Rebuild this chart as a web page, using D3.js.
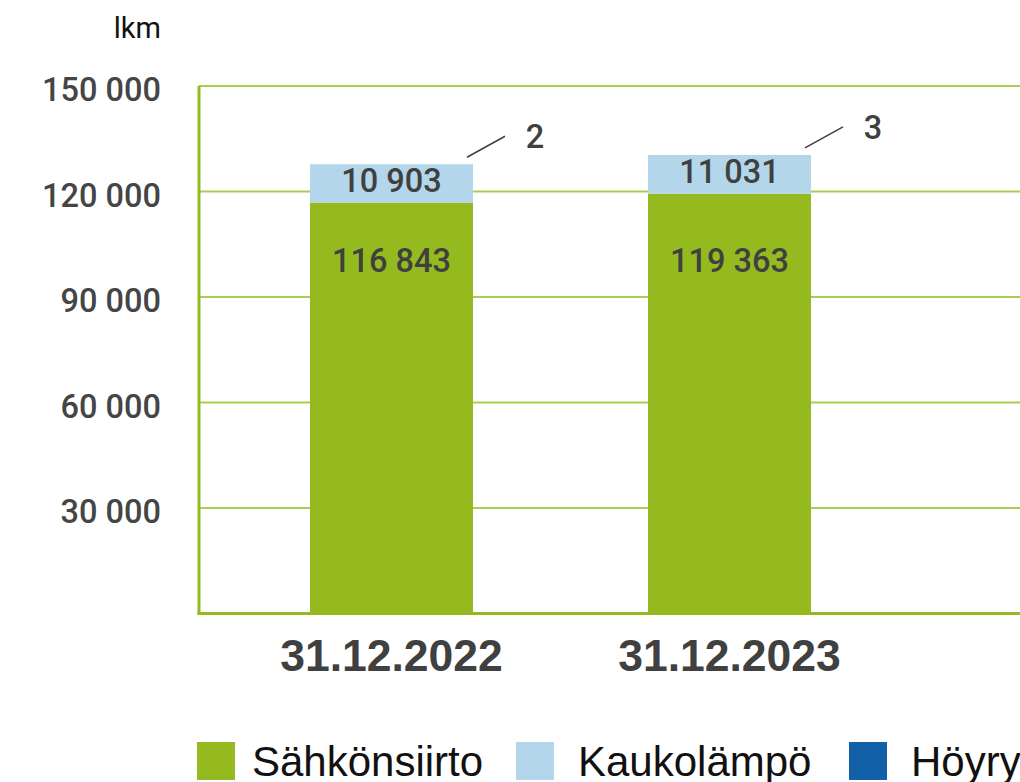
<!DOCTYPE html>
<html>
<head>
<meta charset="utf-8">
<script src="https://cdn.jsdelivr.net/npm/d3@7"></script>
<style>
  html, body { margin: 0; padding: 0; background: #fff; }
  svg { display: block; }
</style>
</head>
<body>
<div id="chart"></div>
<script>
// Data
const categories = ['31.12.2022', '31.12.2023'];
const sahkonsiirto = [116843, 119363];
const kaukolampo = [10903, 11031];
const hoyry = [2, 3];
const seriesNames = ['Sähkönsiirto', 'Kaukolämpö', 'Höyry'];
const yTicks = [30000, 60000, 90000, 120000, 150000];
const unitLabel = 'lkm';

const colors = {
  'Sähkönsiirto': '#95ba1f',
  'Kaukolämpö': '#b4d6ea',
  'Höyry': '#1160a8'
};

const width = 1020;
const height = 782;
const margin = { top: 86, right: 0, bottom: 169, left: 199 };

const svg = d3.select('#chart')
  .append('svg')
  .attr('width', width)
  .attr('height', height);

// bars sit at 310..473 and 648..811
const x = d3.scaleBand()
  .domain(categories)
  .range([310, 811])
  .paddingInner(0.5178)
  .paddingOuter(0);

const y = d3.scaleLinear()
  .domain([0, 150000])
  .range([height - margin.bottom + 0.5, margin.top]);

// Stack
const rows = categories.map((c, i) => ({
  cat: c,
  'Sähkönsiirto': sahkonsiirto[i],
  'Kaukolämpö': kaukolampo[i],
  'Höyry': hoyry[i]
}));
const stacked = d3.stack().keys(seriesNames)(rows);

// Gridlines
svg.append('g')
  .selectAll('line')
  .data(yTicks)
  .enter()
  .append('line')
  .attr('x1', margin.left)
  .attr('x2', width)
  .attr('y1', d => y(d))
  .attr('y2', d => y(d))
  .attr('stroke', '#a9cd52')
  .attr('stroke-width', 2);

// Bars
svg.append('g')
  .selectAll('g')
  .data(stacked)
  .enter()
  .append('g')
  .attr('fill', d => colors[d.key])
  .selectAll('rect')
  .data(d => d)
  .enter()
  .append('rect')
  .attr('x', d => x(d.data.cat))
  .attr('width', x.bandwidth())
  .attr('y', d => y(d[1]))
  .attr('height', d => y(d[0]) - y(d[1]));

// Axes lines
svg.append('line')
  .attr('x1', margin.left).attr('x2', margin.left)
  .attr('y1', y(150000)).attr('y2', y(0) + 1.5)
  .attr('stroke', '#95ba1f')
  .attr('stroke-width', 3);
svg.append('line')
  .attr('x1', margin.left - 1.5).attr('x2', width)
  .attr('y1', y(0)).attr('y2', y(0))
  .attr('stroke', '#95ba1f')
  .attr('stroke-width', 3);

// Y axis labels
const fmt = v => d3.format(',')(v).replace(/,/g, ' ');
const yAxis = d3.axisLeft(y).tickValues(yTicks).tickSize(0).tickPadding(0).tickFormat(fmt);
const yg = svg.append('g')
  .attr('transform', 'translate(161,3)')
  .call(yAxis);
yg.select('.domain').remove();
yg.selectAll('text')
  .attr('dy', '0.36em')
  .style('font-family', 'Roboto, sans-serif')
  .style('font-weight', 500)
  .style('font-size', '32.5px')
  .attr('fill', '#454545');

svg.append('text')
  .attr('x', 161)
  .attr('y', 38)
  .attr('text-anchor', 'end')
  .style('font-family', 'Roboto, sans-serif')
  .style('font-size', '29px')
  .attr('fill', '#111')
  .text(unitLabel);

// X axis labels
const xAxis = d3.axisBottom(x).tickSize(0).tickPadding(0);
const xg = svg.append('g')
  .attr('transform', `translate(0,${y(0) + 57})`)
  .call(xAxis);
xg.select('.domain').remove();
xg.selectAll('text')
  .attr('dy', 0)
  .style('font-family', '"Liberation Sans", Arial, sans-serif')
  .style('font-weight', 700)
  .style('font-size', '44.5px')
  .attr('fill', '#404040');

// Value labels
const labelStyle = sel => sel
  .style('font-family', 'Roboto, sans-serif')
  .style('font-weight', 500)
  .style('font-size', '32.5px')
  .attr('fill', '#404040')
  .attr('text-anchor', 'middle');

// Sähkönsiirto labels sit at one height inside the green bars
svg.append('g')
  .selectAll('text')
  .data(stacked[0])
  .enter()
  .append('text')
  .attr('x', d => x(d.data.cat) + x.bandwidth() / 2)
  .attr('y', y(100500) + 12)
  .call(labelStyle)
  .text(d => fmt(d[1] - d[0]));

svg.append('g')
  .selectAll('text')
  .data(stacked[1])
  .enter()
  .append('text')
  .attr('x', d => x(d.data.cat) + x.bandwidth() / 2)
  .attr('y', d => (y(d[0]) + y(d[1])) / 2 + 9)
  .call(labelStyle)
  .text(d => fmt(d[1] - d[0]));

// Höyry leader labels
const leader = svg.append('g')
  .selectAll('g')
  .data(stacked[2])
  .enter()
  .append('g');
leader.append('line')
  .attr('x1', d => x(d.data.cat) + x.bandwidth() - 6)
  .attr('y1', d => y(d[1]) - 7)
  .attr('x2', d => x(d.data.cat) + x.bandwidth() + 32)
  .attr('y2', d => y(d[1]) - 28)
  .attr('stroke', '#404040')
  .attr('stroke-width', 1.5);
leader.append('text')
  .attr('x', d => x(d.data.cat) + x.bandwidth() + 62)
  .attr('y', d => y(d[1]) - 16)
  .call(labelStyle)
  .text(d => fmt(d[1] - d[0]));

// Legend
const legendX = [197, 516, 849];
const legend = svg.append('g')
  .selectAll('g')
  .data(seriesNames)
  .enter()
  .append('g')
  .attr('transform', (d, i) => `translate(${legendX[i]},742)`);
legend.append('rect')
  .attr('width', 38)
  .attr('height', 38)
  .attr('fill', d => colors[d]);
legend.append('text')
  .attr('x', d => d === 'Sähkönsiirto' ? 55 : 62)
  .attr('y', 34)
  .style('font-family', '"Liberation Sans", Arial, sans-serif')
  .style('font-size', '42px')
  .attr('fill', '#111')
  .text(d => d);
</script>
</body>
</html>
